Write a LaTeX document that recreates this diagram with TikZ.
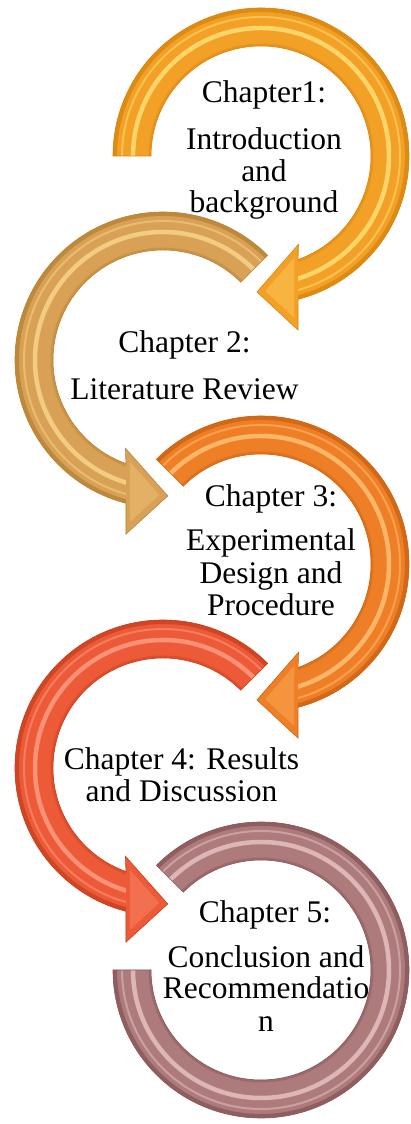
\documentclass[tikz,border=0pt]{standalone}
\usepackage{fontspec}
\setmainfont{Liberation Serif}
\usetikzlibrary{calc}

% ring colours: base, highlight stripe, darker rim
\definecolor{chAbase}{HTML}{F3A027}\definecolor{chAhi}{HTML}{FFE27A}\definecolor{chAedge}{HTML}{D9860F}
\definecolor{chBbase}{HTML}{D9A155}\definecolor{chBhi}{HTML}{F7D88E}\definecolor{chBedge}{HTML}{B98436}
\definecolor{chCbase}{HTML}{EF7F26}\definecolor{chChi}{HTML}{FFC47A}\definecolor{chCedge}{HTML}{CC6412}
\definecolor{chDbase}{HTML}{EC5A38}\definecolor{chDhi}{HTML}{FFA088}\definecolor{chDedge}{HTML}{C9401E}
\definecolor{chEbase}{HTML}{AE7B7D}\definecolor{chEhi}{HTML}{E9C5C6}\definecolor{chEedge}{HTML}{8A5759}

% shading stripes of a ring segment, drawn inside a clip
\newcommand\ringstripes[1]{%
  \draw[#1edge, line width=6, opacity=.8] (0,0) circle[radius=147];
  \draw[#1hi!80!#1base, line width=4.5] (0,0) circle[radius=128];
  \draw[#1hi, line width=2, opacity=.5] (0,0) circle[radius=139];
  \draw[#1edge, line width=3, opacity=.45] (0,0) circle[radius=111];}

% #1 centre, #2 tail angle, #3 outer end, #4 inner end,
% #5 outer barb, #6 inner barb, #7 tip angle, #8 colour prefix
\newcommand\circarrow[8]{%
  \begin{scope}[shift={#1}]
    \fill[#8base] (#2:148) arc[start angle=#2, end angle=#3, radius=148]
      -- (#5:178) -- (#7:136) -- (#6:96) -- (#4:110)
      arc[start angle=#4, end angle=#2, radius=110] -- cycle;
    \begin{scope}
      \clip (#2:148) arc[start angle=#2, end angle=#3, radius=148]
        -- (#4:110) arc[start angle=#4, end angle=#2, radius=110] -- cycle;
      \ringstripes{#8}
    \end{scope}
    \coordinate (hA) at (#5:178);
    \coordinate (hT) at (#7:136);
    \coordinate (hB) at (#6:96);
    \coordinate (hG) at (barycentric cs:hA=1,hT=1,hB=1);
    \fill[#8hi!30!#8base] ($(hA)!.3!(hG)$) -- ($(hT)!.3!(hG)$) -- ($(hB)!.3!(hG)$) -- cycle;
    \draw[#8edge, line width=0.6] (#2:148) arc[start angle=#2, end angle=#3, radius=148]
      -- (#5:178) -- (#7:136) -- (#6:96) -- (#4:110)
      arc[start angle=#4, end angle=#2, radius=110] -- cycle;
  \end{scope}}

\tikzset{
  chaptext/.style={font=\fontsize{31.5}{32}\selectfont, anchor=base, inner sep=0pt, text=black},
}

\begin{document}
\begin{tikzpicture}[x=1pt, y=1pt]
  \fill[white] (0,0) rectangle (411,1124);
  \useasboundingbox (0,0) rectangle (411,1124);

  % closing ring (no head)
  \begin{scope}[shift={(261,154)}]
    \fill[chEbase] (135:148) arc[start angle=135, end angle=-180, radius=148]
      -- (-180:110) arc[start angle=-180, end angle=135, radius=110] -- cycle;
    \begin{scope}
      \clip (135:148) arc[start angle=135, end angle=-180, radius=148]
        -- (-180:110) arc[start angle=-180, end angle=135, radius=110] -- cycle;
      \ringstripes{chE}
    \end{scope}
    \draw[chEedge, line width=0.6] (135:148) arc[start angle=135, end angle=-180, radius=148]
      -- (-180:110) arc[start angle=-180, end angle=135, radius=110] -- cycle;
  \end{scope}

  \circarrow{(163,356)}{45}{255.5}{250.3}{258}{247}{272}{chD}
  \circarrow{(261,560)}{135}{-75.5}{-70.3}{-78}{-67}{-91.7}{chC}
  \circarrow{(163,764)}{45}{255.5}{250.3}{258}{247}{272}{chB}
  \circarrow{(261,968)}{180}{-75.5}{-70.3}{-78}{-67}{-91.7}{chA}

  % chapter labels
  \node[chaptext] (t1a) at (264,1021) {Chapter1:};
  \node[chaptext] (t1b) at (264,974) {Introduction};
  \node[chaptext] (t1c) at (264,942) {and};
  \node[chaptext] (t1d) at (264,911) {background};

  \node[chaptext] (t2a) at (184.5,771) {Chapter 2:};
  \node[chaptext] (t2b) at (184.5,724) {Literature Review};

  \node[chaptext] (t3a) at (271,617) {Chapter 3:};
  \node[chaptext] (t3b) at (271,573) {Experimental};
  \node[chaptext] (t3c) at (271,540) {Design and};
  \node[chaptext] (t3d) at (271,508) {Procedure};

  \node[chaptext] (t4a) at (181.5,354) {Chapter 4: Results};
  \node[chaptext] (t4b) at (181.5,322) {and Discussion};

  \node[chaptext] (t5a) at (265,201) {Chapter 5:};
  \node[chaptext] (t5b) at (266,156) {Conclusion and};
  \node[chaptext] (t5c) at (266,125) {Recommendatio};
  \node[chaptext] (t5d) at (266,92) {n};
\end{tikzpicture}
\end{document}
